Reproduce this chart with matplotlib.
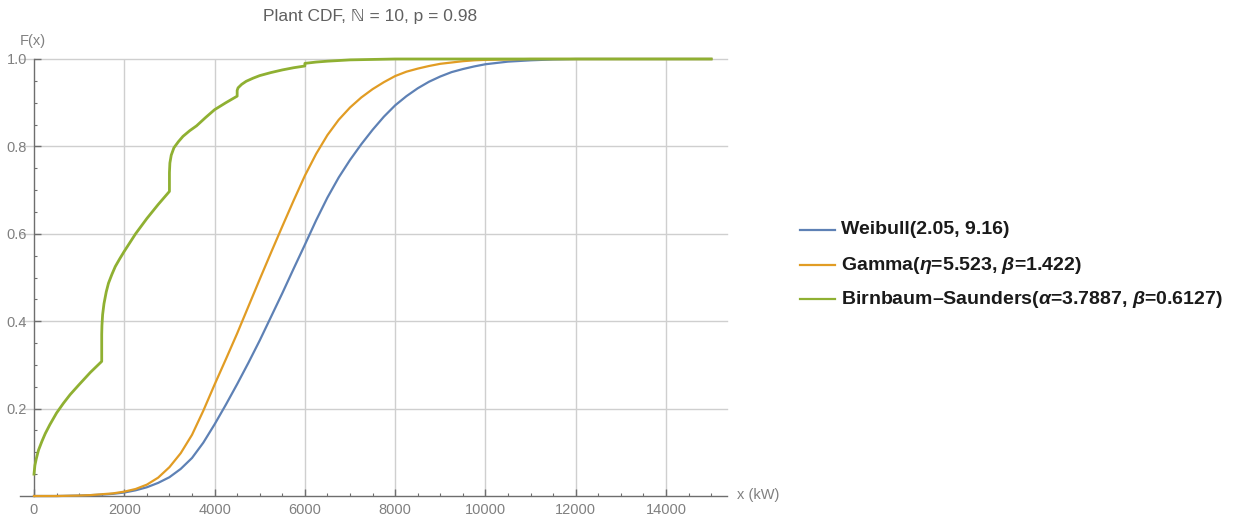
import matplotlib
matplotlib.use("Agg")
import matplotlib.pyplot as plt
from matplotlib.lines import Line2D
from matplotlib.ticker import FixedLocator, FuncFormatter

plt.rcParams['mathtext.fontset'] = 'custom'
plt.rcParams['mathtext.rm'] = 'Liberation Sans:bold'
plt.rcParams['mathtext.bf'] = 'Liberation Sans:bold'
plt.rcParams['mathtext.it'] = 'Liberation Sans:italic:bold'

# ---- data (x in kW, F(x) cumulative probability) ----
x_fit = [0, 250, 500, 750, 1000, 1250, 1500, 1750, 2000, 2250, 2500, 2750,
         3000, 3250, 3500, 3750, 4000, 4250, 4500, 4750, 5000, 5250, 5500,
         5750, 6000, 6250, 6500, 6750, 7000, 7250, 7500, 7750, 8000, 8250,
         8500, 8750, 9000, 9250, 9500, 9750, 10000, 10500, 11000, 11500,
         12000, 13000, 14000, 15000]
weibull_cdf = [0.0, 0.0, 0.0, 0.0005, 0.001, 0.002, 0.003, 0.005, 0.008, 0.013,
               0.020, 0.030, 0.043, 0.062, 0.087, 0.122, 0.164, 0.209, 0.256,
               0.305, 0.356, 0.410, 0.464, 0.520, 0.575, 0.631, 0.683, 0.729,
               0.769, 0.805, 0.838, 0.868, 0.894, 0.915, 0.933, 0.948, 0.960,
               0.970, 0.977, 0.983, 0.988, 0.994, 0.997, 0.999, 1.0, 1.0, 1.0,
               1.0]
gamma_cdf = [0.0, 0.0, 0.0, 0.0005, 0.001, 0.002, 0.004, 0.006, 0.010, 0.016,
             0.026, 0.042, 0.066, 0.098, 0.140, 0.195, 0.255, 0.313, 0.372,
             0.434, 0.496, 0.557, 0.617, 0.676, 0.733, 0.783, 0.826, 0.861,
             0.889, 0.912, 0.931, 0.947, 0.961, 0.971, 0.978, 0.984, 0.989,
             0.992, 0.995, 0.997, 0.998, 0.999, 1.0, 1.0, 1.0, 1.0, 1.0, 1.0]

x_bs = [0, 20, 50, 100, 175, 250, 350, 500, 650, 800, 1000, 1250, 1500,
        1500, 1505, 1520, 1550, 1600, 1650, 1725, 1800, 1900, 2000, 2250,
        2500, 2750, 3000, 3000, 3010, 3040, 3100, 3200, 3300, 3450, 3600,
        3800, 4000, 4250, 4500, 4500, 4520, 4600, 4700, 4850, 5000, 5250,
        5500, 5750, 6000, 6000, 6250, 6500, 7000, 7500, 8000, 15000]
bs_cdf = [0.05, 0.070, 0.085, 0.105, 0.125, 0.143, 0.163, 0.190, 0.212, 0.232,
          0.255, 0.283, 0.308, 0.370, 0.390, 0.415, 0.440, 0.467, 0.487,
          0.507, 0.525, 0.543, 0.560, 0.600, 0.635, 0.667, 0.697, 0.740,
          0.762, 0.780, 0.797, 0.811, 0.823, 0.836, 0.847, 0.866, 0.884,
          0.900, 0.915, 0.928, 0.934, 0.942, 0.949, 0.956, 0.962, 0.969,
          0.975, 0.980, 0.984, 0.990, 0.993, 0.995, 0.998, 0.999, 1.0, 1.0]

labels = ["Weibull(2.05, 9.16)",
          r"Gamma($\eta$=5.523, $\beta$=1.422)",
          r"Birnbaum–Saunders($\alpha$=3.7887, $\beta$=0.6127)"]
colors = ["#5E81B5", "#E19C24", "#8FB032"]
title = "Plant CDF, ℕ = 10, p = 0.98"

W, H = 1240, 518
fig = plt.figure(figsize=(W / 100, H / 100), dpi=100)
ax = fig.add_axes([20 / W, 22 / H, 707 / W, 437 / H])

axis_gray = "#6e6e6e"
label_gray = "#808080"
font = ['Liberation Sans', 'DejaVu Sans']

lines = []
lines += ax.plot(x_fit, weibull_cdf, color=colors[0], lw=1.6, clip_on=False, zorder=3)
lines += ax.plot(x_fit, gamma_cdf, color=colors[1], lw=1.6, clip_on=False, zorder=3)
lines += ax.plot(x_bs, bs_cdf, color=colors[2], lw=2.0, clip_on=False, zorder=4)

ax.set_xlim(-310, 15350)
ax.set_ylim(0, 1.0)

for s in ("top", "right"):
    ax.spines[s].set_visible(False)
ax.spines["left"].set_position(("data", 0))
for s in ("left", "bottom"):
    ax.spines[s].set_color(axis_gray)
    ax.spines[s].set_linewidth(1.0)

ax.xaxis.set_major_locator(FixedLocator([0, 2000, 4000, 6000, 8000, 10000, 12000, 14000]))
ax.xaxis.set_minor_locator(FixedLocator([v for v in range(500, 15001, 500) if v % 2000]))
ax.yaxis.set_major_locator(FixedLocator([0.2, 0.4, 0.6, 0.8, 1.0]))
ax.yaxis.set_minor_locator(FixedLocator([v / 100 for v in range(5, 100, 5) if v % 20]))
ax.yaxis.set_major_formatter(FuncFormatter(lambda v, p: f"{v:.1f}"))
ax.xaxis.set_major_formatter(FuncFormatter(lambda v, p: f"{int(v)}"))

ax.tick_params(which="major", direction="in", length=5, width=1.0, color=axis_gray,
               labelcolor=label_gray, labelsize=10.5, pad=5)
ax.tick_params(which="minor", direction="in", length=2.5, width=0.8, color=axis_gray)
for t in ax.get_xticklabels() + ax.get_yticklabels():
    t.set_family(font)

# grid lines at major positions (skip the axes themselves)
for gx in [2000, 4000, 6000, 8000, 10000, 12000, 14000]:
    ax.axvline(gx, color="#cfcfcf", lw=1.0, zorder=1)
for gy in [0.2, 0.4, 0.6, 0.8, 1.0]:
    ax.axhline(gy, color="#cfcfcf", lw=1.0, zorder=1, clip_on=False)

fig.text(370 / W, 1 - 17 / H, title, ha="center", va="center", fontsize=12.5,
         color="#606060", family=font)
fig.text(33 / W, 1 - 41 / H, "F(x)", ha="center", va="center", fontsize=10.5,
         color=label_gray, family=font)
fig.text(737 / W, 1 - 495 / H, "x (kW)", ha="left", va="center", fontsize=10.5,
         color=label_gray, family=font)

# legend drawn at the right of the plot
rows = [230, 265, 299]
for ln, lab, yy in zip(lines, labels, rows):
    fig.add_artist(Line2D([800 / W, 835 / W], [1 - yy / H, 1 - yy / H],
                          color=ln.get_color(), lw=1.6, transform=fig.transFigure))
    fig.text(841 / W, 1 - yy / H, lab, ha="left", va="center", fontsize=14,
             fontweight="bold", color="#1a1a1a", family=font)

fig.savefig("out.png", dpi=100)
